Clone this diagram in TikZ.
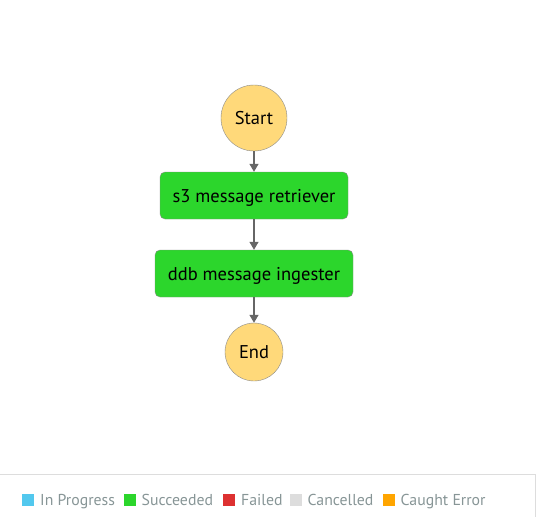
\documentclass[tikz,border=0pt]{standalone}
\usepackage{fontspec}
\setmainfont{PT Sans}
\usetikzlibrary{arrows.meta}
\definecolor{stateyellow}{HTML}{FFD97A}
\definecolor{okgreen}{HTML}{2CD62C}
\definecolor{edgegray}{HTML}{8A8A8A}
\definecolor{flowgray}{HTML}{666666}
\definecolor{leggray}{HTML}{879596}
\definecolor{framegray}{HTML}{DDDDDD}
\definecolor{progblue}{HTML}{52C8EE}
\definecolor{failred}{HTML}{DD3131}
\definecolor{cancelgray}{HTML}{DDDDDD}
\definecolor{caughtorange}{HTML}{FFA500}

\begin{document}
\begin{tikzpicture}[x=1pt, y=-1pt,
    state/.style={circle, draw=edgegray, fill=stateyellow, inner sep=0pt, text height=13pt, text depth=0pt, font=\fontsize{18.5}{20}\selectfont},
    task/.style={rectangle, rounded corners=5pt, draw=edgegray, fill=okgreen, minimum height=47pt, inner sep=0pt, text height=13pt, text depth=0pt, font=\fontsize{18.5}{20}\selectfont},
    flow/.style={draw=flowgray, line width=1.2pt, -{Triangle[length=8pt, width=9pt]}},
    legbox/.style={rectangle, minimum size=12pt, inner sep=0pt},
    legtext/.style={anchor=base west, inner sep=0pt, text=leggray, font=\fontsize{15.8}{17}\selectfont}]
    \useasboundingbox (0,0) rectangle (536,517);
    % states
    \node[state, minimum size=66pt] (start) at (254,118) {Start};
    \node[task, minimum width=188pt] (retriever) at (254,195.5) {s3 message retriever};
    \node[task, minimum width=198pt] (ingester) at (254,273.5) {ddb message ingester};
    \node[state, minimum size=58pt] (end) at (254,352) {End};
    \draw[flow] (start) -- (retriever);
    \draw[flow] (retriever) -- (ingester);
    \draw[flow] (ingester) -- (end);
    % legend
    \draw[framegray, line width=1pt] (0,474) -- (535,474) -- (535,517);
    \node[legbox, fill=progblue] (bprog) at (28,499.5) {};
    \node[legtext] (tprog) at (40,505) {In Progress};
    \node[legbox, fill=okgreen] (bsucc) at (130,499.5) {};
    \node[legtext] (tsucc) at (141.5,505) {Succeeded};
    \node[legbox, fill=failred] (bfail) at (229,499.5) {};
    \node[legtext] (tfail) at (241,505) {Failed};
    \node[legbox, fill=cancelgray] (bcanc) at (296,499.5) {};
    \node[legtext] (tcanc) at (307.5,505) {Cancelled};
    \node[legbox, fill=caughtorange] (bcaught) at (388.5,499.5) {};
    \node[legtext] (tcaught) at (400.5,505) {Caught Error};
\end{tikzpicture}
\end{document}
